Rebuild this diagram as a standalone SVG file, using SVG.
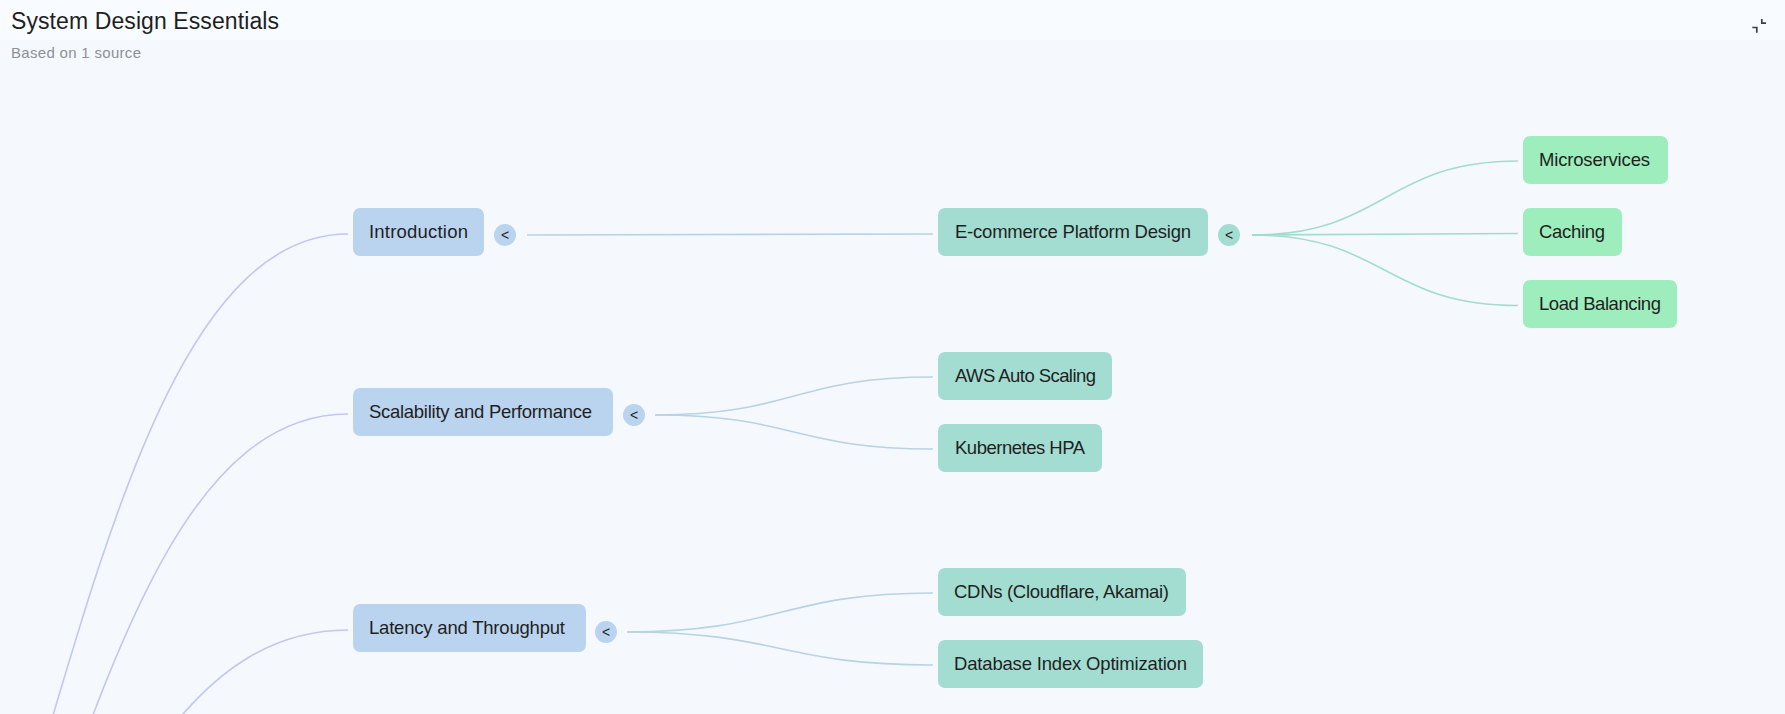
<svg xmlns="http://www.w3.org/2000/svg" width="1785" height="714" viewBox="0 0 1785 714">
<style>
.t{font-family:"Liberation Sans",Arial,sans-serif;font-size:18.5px;fill:#1f1f1f}
.l1 rect{fill:#bad3ef}
.l2 rect{fill:#a3dcd1}
.l3 rect{fill:#9eedbc}
.c1{fill:#bad3ef}
.c2{fill:#a3dcd1}
.chev{font-family:"Liberation Sans",Arial,sans-serif;font-size:14px;fill:#1f1f1f;text-anchor:middle}
.e0{fill:none;stroke:#c3c6f1;stroke-width:1.6}
.e1{fill:none;stroke:#b8d2e6;stroke-width:1.6}
.e2{fill:none;stroke:#a3dccf;stroke-width:1.6}
</style>
<rect x="0" y="0" width="1785" height="714" fill="#f5f9fe"/>
<rect x="0" y="0" width="1785" height="40" fill="#f8fbff"/>
<g id="header">
<text x="11" y="29" font-family="'Liberation Sans',Arial,sans-serif" font-size="23" fill="#1f1f1f" textLength="268" lengthAdjust="spacing">System Design Essentials</text>
<text x="11" y="58" font-family="'Liberation Sans',Arial,sans-serif" font-size="15" fill="#8d9095" textLength="130" lengthAdjust="spacing">Based on 1 source</text>
<path d="M1761.8 19V23.2H1766M1752.3 27.5H1756.8V32.7" fill="none" stroke="#3c4043" stroke-width="1.7"/>
</g>
<g id="connectors">
<path class="e0" d="M-268 1285C40 1285 40 234 348 234"/>
<path class="e0" d="M-262 1285C45 1285 45 414 348 414"/>
<path class="e0" d="M-262 1285C45 1285 45 630 348 630"/>
<path class="e1" d="M527 235L933 234"/>
<path class="e1" d="M655 415C794 415 794 377 933 377"/>
<path class="e1" d="M655 415C794 415 794 449 933 449"/>
<path class="e1" d="M627 632C780 632 780 593 933 593"/>
<path class="e1" d="M627 632C780 632 780 665 933 665"/>
<path class="e2" d="M1252 235C1385 235 1385 161 1518 161"/>
<path class="e2" d="M1252 235L1518 233.5"/>
<path class="e2" d="M1252 235C1385 235 1385 305.5 1518 305.5"/>
</g>
<g id="introduction" class="l1">
<rect x="353" y="208" width="131" height="48" rx="7"/>
<text class="t" x="369" y="238" textLength="99" lengthAdjust="spacing">Introduction</text>
<circle class="c1" cx="505" cy="235" r="11"/><text class="chev" x="505" y="240">&lt;</text>
</g>
<g id="scalability" class="l1">
<rect x="353" y="388" width="260" height="48" rx="7"/>
<text class="t" x="369" y="418" textLength="223" lengthAdjust="spacing">Scalability and Performance</text>
<circle class="c1" cx="634" cy="415" r="11"/><text class="chev" x="634" y="420">&lt;</text>
</g>
<g id="latency" class="l1">
<rect x="353" y="604" width="233" height="48" rx="7"/>
<text class="t" x="369" y="634" textLength="196" lengthAdjust="spacing">Latency and Throughput</text>
<circle class="c1" cx="606" cy="632" r="11"/><text class="chev" x="606" y="637">&lt;</text>
</g>
<g id="ecommerce" class="l2">
<rect x="938" y="208" width="270" height="48" rx="7"/>
<text class="t" x="955" y="238" textLength="236" lengthAdjust="spacing">E-commerce Platform Design</text>
<circle class="c2" cx="1229" cy="235" r="11"/><text class="chev" x="1229" y="240">&lt;</text>
</g>
<g id="aws" class="l2">
<rect x="938" y="352" width="174" height="48" rx="7"/>
<text class="t" x="955" y="382" textLength="141" lengthAdjust="spacing">AWS Auto Scaling</text>
</g>
<g id="k8s" class="l2">
<rect x="938" y="424" width="164" height="48" rx="7"/>
<text class="t" x="955" y="454" textLength="130" lengthAdjust="spacing">Kubernetes HPA</text>
</g>
<g id="cdn" class="l2">
<rect x="938" y="568" width="248" height="48" rx="7"/>
<text class="t" x="954" y="598" textLength="215" lengthAdjust="spacing">CDNs (Cloudflare, Akamai)</text>
</g>
<g id="dbindex" class="l2">
<rect x="938" y="640" width="265" height="48" rx="7"/>
<text class="t" x="954" y="670" textLength="233" lengthAdjust="spacing">Database Index Optimization</text>
</g>
<g id="microservices" class="l3">
<rect x="1523" y="136" width="145" height="48" rx="7"/>
<text class="t" x="1539" y="166" textLength="111" lengthAdjust="spacing">Microservices</text>
</g>
<g id="caching" class="l3">
<rect x="1523" y="208" width="99" height="48" rx="7"/>
<text class="t" x="1539" y="238" textLength="66" lengthAdjust="spacing">Caching</text>
</g>
<g id="loadbalancing" class="l3">
<rect x="1523" y="280" width="154" height="48" rx="7"/>
<text class="t" x="1539" y="310" textLength="122" lengthAdjust="spacing">Load Balancing</text>
</g>
</svg>
